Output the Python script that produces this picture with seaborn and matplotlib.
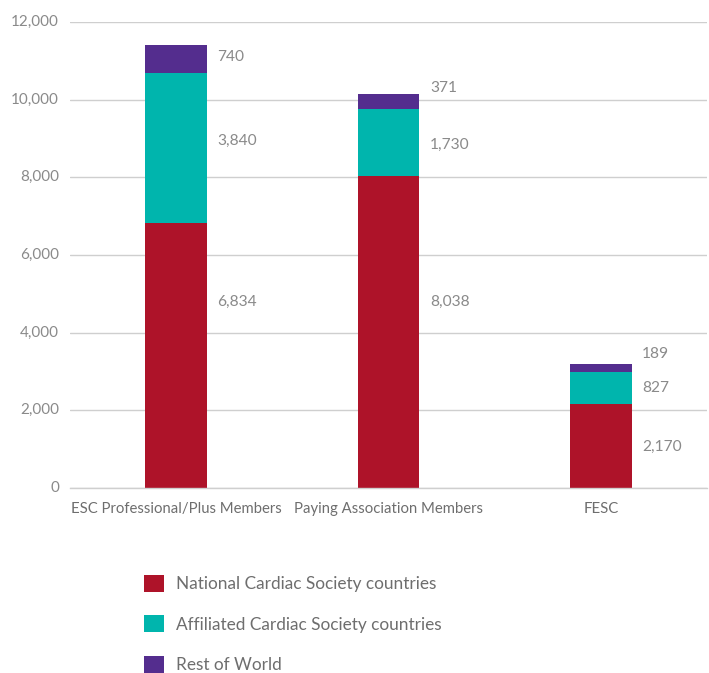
import matplotlib
matplotlib.use("Agg")
import matplotlib.pyplot as plt
import seaborn as sns
import numpy as np
import pandas as pd
from matplotlib.patches import Patch

categories = ["ESC Professional/Plus Members", "Paying Association Members", "FESC"]
national = [6834, 8038, 2170]
affiliated = [3840, 1730, 827]
rest = [740, 371, 189]
series_names = ["National Cardiac Society countries", "Affiliated Cardiac Society countries", "Rest of World"]
colors = ["#AE1329", "#00B5AD", "#542D8E"]
yticks = [0, 2000, 4000, 6000, 8000, 10000, 12000]

# label anchor heights (layout, in data units) per category: national, affiliated, rest
label_y = [[4800, 8930, 11100], [4800, 8830, 10300], [1060, 2580, 3460]]

sns.set_style("white")
plt.rcParams["font.family"] = ["Lato", "DejaVu Sans"]

W, H = 709, 673
fig = plt.figure(figsize=(W / 100, H / 100), dpi=100)
ax = fig.add_axes([70 / W, (H - 488) / H, (707 - 70) / W, (488 - 22) / H])

df = pd.DataFrame({"cat": categories, "nat": national, "aff": affiliated, "rest": rest})
df["lvl2"] = df["nat"] + df["aff"]
df["lvl3"] = df["lvl2"] + df["rest"]

for col, c in zip(["lvl3", "lvl2", "nat"], [colors[2], colors[1], colors[0]]):
    sns.barplot(data=df, x="cat", y=col, color=c, width=0.29, ax=ax,
                saturation=1, linewidth=0, order=categories)

ax.set_xlim(-0.5, 2.5)
ax.set_ylim(0, 12000)
ax.set_yticks(yticks)
ax.set_yticklabels([f"{v:,}" for v in yticks])
ax.set_xlabel("")
ax.set_ylabel("")
ax.yaxis.grid(True, color="#CFCFCF", linewidth=1)
ax.set_axisbelow(True)
for s in ["top", "right", "left"]:
    ax.spines[s].set_visible(False)
ax.spines["bottom"].set_color("#CFCFCF")
ax.spines["bottom"].set_linewidth(1)
ax.tick_params(axis="y", length=0, pad=8, labelsize=11, labelcolor="#8A8A8A")
ax.tick_params(axis="x", length=0, pad=10, labelsize=10.7, labelcolor="#6E6E6E")
for lab in ax.get_yticklabels():
    lab.set_verticalalignment("center")

# value labels
for i in range(len(categories)):
    for v, yy in zip([national[i], affiliated[i], rest[i]], label_y[i]):
        ax.text(i + 0.145 + 0.05, yy, f"{v:,}", ha="left", va="center",
                fontsize=11.2, color="#8A8A8A")

handles = [Patch(facecolor=c, edgecolor="none") for c in colors]
fig.legend(handles, series_names, loc="upper left", bbox_to_anchor=(137 / W, 1 - 568 / H),
           frameon=False, fontsize=12.4, labelcolor="#6E6E6E", handlelength=1.15,
           handleheight=1.15, handletextpad=0.7, labelspacing=1.34, borderaxespad=0)

fig.savefig("out.png", dpi=100)
